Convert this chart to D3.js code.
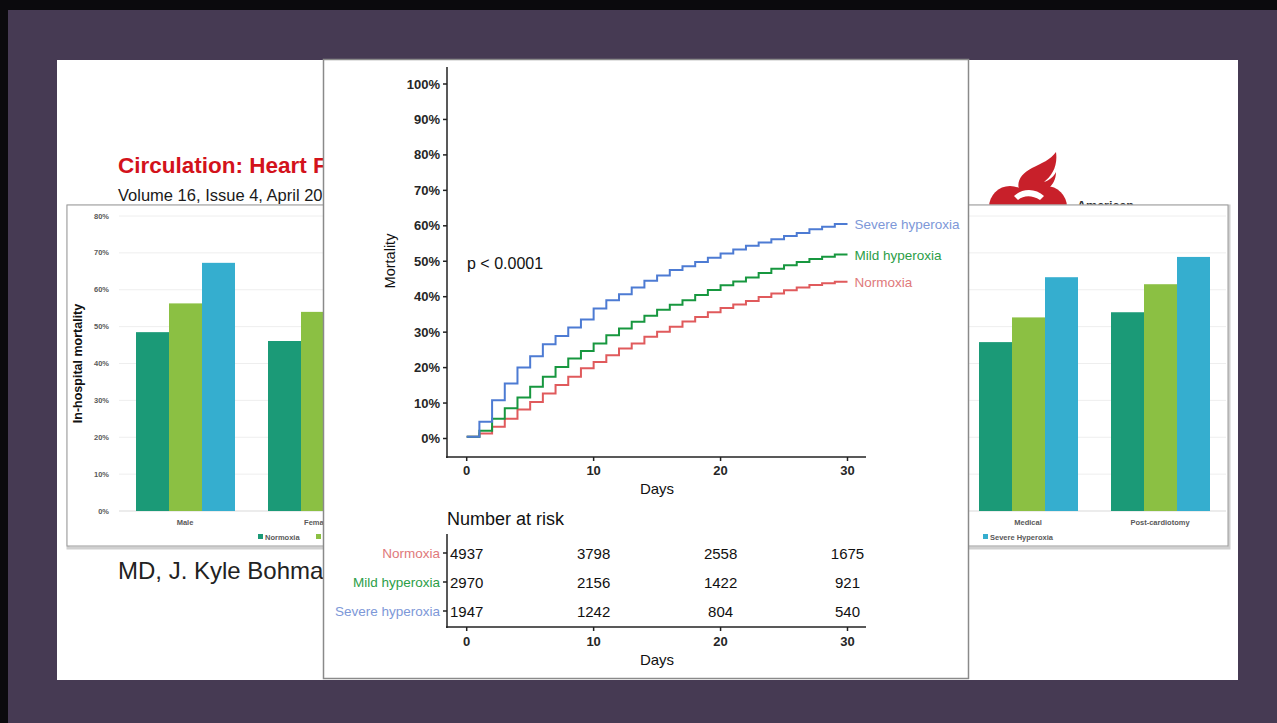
<!DOCTYPE html>
<html>
<head>
<meta charset="utf-8">
<script src="https://cdn.jsdelivr.net/npm/d3@7"></script>
<style>
  html, body { margin: 0; padding: 0; background: #463a53; }
  svg { display: block; font-family: "Liberation Sans", Arial, sans-serif; }
</style>
</head>
<body>
<div id="vis"></div>
<script>
// background bar chart (partly hidden behind the survival plot)
const barCategories = ["Male", "Female", "Medical", "Post-cardiotomy"];
const barSeries = ["Normoxia", "Mild Hyperoxia", "Severe Hyperoxia"];
const barNormoxia = [48.5, 46.1, 45.8, 53.9];
const barMild = [56.3, 54.0, 52.5, 61.5];
const barSevere = [67.3, null, 63.4, 68.9];
const barTicks = [0, 10, 20, 30, 40, 50, 60, 70, 80];

// cumulative mortality, value held from day i to day i+1
const kmGroups = ["Normoxia", "Mild hyperoxia", "Severe hyperoxia"];
const kmNormoxia = [0.5, 1.4, 3.3, 5.6, 8.2, 10.3, 12.7, 15.1, 17.4, 19.8, 21.6, 23.5, 25.4, 26.8, 28.7,
  30.1, 31.5, 33.0, 34.3, 35.6, 36.8, 37.8, 38.8, 39.9, 40.9, 41.8, 42.6, 43.3, 43.8, 44.2];
const kmMild = [0.5, 2.2, 5.6, 8.5, 11.6, 14.6, 17.4, 20.2, 22.6, 24.7, 26.8, 29.1, 31.0, 32.9, 34.6,
  36.3, 37.7, 39.0, 40.5, 41.9, 43.2, 44.3, 45.4, 46.7, 47.9, 48.9, 49.8, 50.6, 51.3, 51.9];
const kmSevere = [0.5, 4.7, 10.8, 15.5, 20.0, 23.2, 26.6, 28.9, 31.3, 33.6, 36.7, 39.0, 40.7, 42.6, 44.5,
  46.0, 47.5, 48.6, 49.8, 51.0, 52.2, 53.3, 54.4, 55.3, 56.2, 57.1, 58.0, 59.0, 59.7, 60.5];
const kmYTicks = [0, 10, 20, 30, 40, 50, 60, 70, 80, 90, 100];
const kmXTicks = [0, 10, 20, 30];

const riskDays = [0, 10, 20, 30];
const riskNormoxia = [4937, 3798, 2558, 1675];
const riskMild = [2970, 2156, 1422, 921];
const riskSevere = [1947, 1242, 804, 540];

const W = 1277, H = 723;
const svg = d3.select("#vis").append("svg").attr("width", W).attr("height", H);

// slide frame
svg.append("rect").attr("width", W).attr("height", H).attr("fill", "#463a53");
svg.append("rect").attr("width", W).attr("height", 10).attr("fill", "#0b0a0d");
svg.append("rect").attr("width", 8).attr("height", H).attr("fill", "#0b0a0d");
svg.append("rect").attr("x", 57).attr("y", 60).attr("width", 1181).attr("height", 620).attr("fill", "#fff");

// slide header text
svg.append("text").attr("x", 118).attr("y", 173)
  .attr("font-size", 22.5).attr("font-weight", "bold").attr("fill", "#d3121b")
  .text("Circulation: Heart Failure");
svg.append("text").attr("x", 118).attr("y", 201)
  .attr("font-size", 16.5).attr("fill", "#1a1a1a")
  .text("Volume 16, Issue 4, April 2023");
svg.append("text").attr("x", 118).attr("y", 579)
  .attr("font-size", 24).attr("fill", "#222")
  .text("MD, J. Kyle Bohman");

// AHA logo (rough)
const logo = svg.append("g").attr("fill", "#c8202a");
logo.append("circle").attr("cx", 1010).attr("cy", 207).attr("r", 21);
logo.append("circle").attr("cx", 1046).attr("cy", 207).attr("r", 21);
logo.append("path")
  .attr("d", "M1022,196 C1014,184 1020,174 1032,168 C1042,163 1050,160 1056,152 C1058,166 1052,176 1044,182 C1050,180 1054,176 1056,172 C1056,186 1044,194 1030,197 Z");
svg.append("path").attr("fill", "#fff")
  .attr("d", "M1014,196 C1022,188 1036,188 1044,196 L1040,200 C1032,195 1024,195 1018,200 Z");
svg.append("text").attr("x", 1077).attr("y", 210)
  .attr("font-size", 12.5).attr("font-weight", "bold").attr("fill", "#333").text("American");

// bar chart box
svg.append("rect").attr("x", 68).attr("y", 206).attr("width", 1161).attr("height", 342)
  .attr("fill", "none").attr("stroke", "#d0d0d0").attr("stroke-width", 3);
svg.append("rect").attr("x", 67).attr("y", 205).attr("width", 1161).attr("height", 341)
  .attr("fill", "#fff").attr("stroke", "#9a9a9a").attr("stroke-width", 1);

const by = d3.scaleLinear().domain([0, 80]).range([511, 216]);
const bar = svg.append("g");

bar.selectAll(".grid").data(barTicks).join("line")
  .attr("x1", 119).attr("x2", 1226)
  .attr("y1", d => by(d)).attr("y2", d => by(d))
  .attr("stroke", d => d === 0 ? "#d9d9d9" : "#eeeeee").attr("stroke-width", 1);

bar.selectAll(".ytl").data(barTicks).join("text")
  .attr("x", 109).attr("y", d => by(d) + 2.5)
  .attr("text-anchor", "end").attr("font-size", 7.5).attr("font-weight", "bold").attr("fill", "#595959")
  .text(d => d + "%");

bar.append("text")
  .attr("transform", `translate(82,${by(40)}) rotate(-90)`)
  .attr("text-anchor", "middle").attr("font-size", 12.5).attr("font-weight", "bold").attr("fill", "#111")
  .text("In-hospital mortality");

const barColor = d3.scaleOrdinal().domain(barSeries).range(["#1b9a77", "#8bc043", "#35aecf"]);
const barRows = barCategories.map((c, i) => ({
  cat: c,
  vals: [barNormoxia[i], barMild[i], barSevere[i]]
}));
const xLeft = d3.scaleBand().domain(barCategories.slice(0, 2)).range([119, 383]);
const xRight = d3.scaleBand().domain(barCategories.slice(2)).range([962, 1226]);
const xInner = d3.scaleBand().domain(barSeries).range([17, 116]);
const x0 = c => xLeft.domain().includes(c) ? xLeft(c) : xRight(c);

const groups = bar.selectAll(".grp").data(barRows).join("g")
  .attr("transform", d => `translate(${x0(d.cat)},0)`);
groups.selectAll("rect")
  .data(d => d.vals.map((v, j) => ({ key: barSeries[j], v })).filter(e => e.v != null))
  .join("rect")
  .attr("x", e => xInner(e.key)).attr("width", xInner.bandwidth())
  .attr("y", e => by(e.v)).attr("height", e => by(0) - by(e.v))
  .attr("fill", e => barColor(e.key));
groups.append("text")
  .attr("x", xLeft.bandwidth() / 2).attr("y", 525)
  .attr("text-anchor", "middle").attr("font-size", 7.5).attr("font-weight", "bold").attr("fill", "#595959")
  .text(d => d.cat);

// bar legend
const legX = { "Normoxia": 258, "Mild Hyperoxia": 316, "Severe Hyperoxia": 983 };
const leg = bar.selectAll(".leg").data(barSeries).join("g")
  .attr("transform", d => `translate(${legX[d]},537)`);
leg.append("rect").attr("x", 0).attr("y", -3).attr("width", 5).attr("height", 5).attr("fill", d => barColor(d));
leg.append("text").attr("x", 7).attr("y", 2.5)
  .attr("font-size", 7.5).attr("font-weight", "bold").attr("fill", "#595959").text(d => d);

// survival panel
svg.append("rect").attr("x", 323.5).attr("y", 59.5).attr("width", 645).attr("height", 619)
  .attr("fill", "#fff").attr("stroke", "#8a8a8a").attr("stroke-width", 1.5);

const kmColor = d3.scaleOrdinal().domain(kmGroups).range(["#e05a5c", "#17973f", "#4d7bd3"]);
const kmLabelColor = d3.scaleOrdinal().domain(kmGroups).range(["#e0797b", "#2c9e48", "#7d98d8"]);
const kx = d3.scaleLinear().domain([0, 30]).range([466.7, 847.5]);
const ky = d3.scaleLinear().domain([0, 100]).range([438.5, 84]);
const km = svg.append("g");

const ax = km.append("g").attr("stroke", "#222").attr("stroke-width", 1.5);
ax.append("line").attr("x1", 447).attr("x2", 447).attr("y1", 67).attr("y2", 458);
ax.append("line").attr("x1", 446).attr("x2", 866).attr("y1", 457).attr("y2", 457);
ax.selectAll(".yt").data(kmYTicks).join("line")
  .attr("x1", 443).attr("x2", 447).attr("y1", d => ky(d)).attr("y2", d => ky(d));
ax.selectAll(".xt").data(kmXTicks).join("line")
  .attr("x1", d => kx(d)).attr("x2", d => kx(d)).attr("y1", 457).attr("y2", 461);

km.selectAll(".ytl").data(kmYTicks).join("text")
  .attr("x", 440).attr("y", d => ky(d) + 4.5)
  .attr("text-anchor", "end").attr("font-size", 13).attr("font-weight", "bold").attr("fill", "#262626")
  .text(d => d + "%");
km.selectAll(".xtl").data(kmXTicks).join("text")
  .attr("x", d => kx(d)).attr("y", 475)
  .attr("text-anchor", "middle").attr("font-size", 13).attr("font-weight", "bold").attr("fill", "#262626")
  .text(d => d);
km.append("text").attr("x", 657).attr("y", 494).attr("text-anchor", "middle")
  .attr("font-size", 15).attr("fill", "#111").text("Days");
km.append("text").attr("transform", "translate(395,261) rotate(-90)")
  .attr("text-anchor", "middle").attr("font-size", 14.5).attr("fill", "#111").text("Mortality");
km.append("text").attr("x", 467).attr("y", 269)
  .attr("font-size", 16).attr("fill", "#111").text("p < 0.0001");

const kmSeries = [
  { name: "Normoxia", vals: kmNormoxia },
  { name: "Mild hyperoxia", vals: kmMild },
  { name: "Severe hyperoxia", vals: kmSevere }
];
const step = d3.line().curve(d3.curveStepAfter).x(d => kx(d[0])).y(d => ky(d[1]));
km.selectAll(".curve").data(kmSeries).join("path")
  .attr("fill", "none").attr("stroke", d => kmColor(d.name)).attr("stroke-width", 2)
  .attr("d", d => step(d.vals.map((v, i) => [i, v]).concat([[30, d.vals[d.vals.length - 1]]])));
km.selectAll(".clab").data(kmSeries).join("text")
  .attr("x", kx(30) + 7).attr("y", d => ky(d.vals[d.vals.length - 1]) + 5)
  .attr("font-size", 13.5).attr("fill", d => kmLabelColor(d.name))
  .text(d => d.name);

// number at risk table
const risk = svg.append("g");
risk.append("text").attr("x", 447).attr("y", 525).attr("font-size", 18).attr("fill", "#111").text("Number at risk");
const ry = d3.scalePoint().domain(kmGroups).range([553, 611]);
const rax = risk.append("g").attr("stroke", "#222").attr("stroke-width", 1.5);
rax.append("line").attr("x1", 447).attr("x2", 447).attr("y1", 534).attr("y2", 628);
rax.append("line").attr("x1", 446).attr("x2", 866).attr("y1", 627).attr("y2", 627);
rax.selectAll(".rt").data(kmGroups).join("line")
  .attr("x1", 443).attr("x2", 447).attr("y1", d => ry(d)).attr("y2", d => ry(d));
rax.selectAll(".xt").data(riskDays).join("line")
  .attr("x1", d => kx(d)).attr("x2", d => kx(d)).attr("y1", 627).attr("y2", 631);

risk.selectAll(".rl").data(kmGroups).join("text")
  .attr("x", 440).attr("y", d => ry(d) + 5)
  .attr("text-anchor", "end").attr("font-size", 13.5).attr("fill", d => kmLabelColor(d))
  .text(d => d);
const riskRows = [
  { name: "Normoxia", vals: riskNormoxia },
  { name: "Mild hyperoxia", vals: riskMild },
  { name: "Severe hyperoxia", vals: riskSevere }
];
risk.selectAll(".rrow").data(riskRows).join("g")
  .selectAll("text")
  .data(r => r.vals.map((v, i) => ({ day: riskDays[i], v, name: r.name })))
  .join("text")
  .attr("x", d => kx(d.day)).attr("y", d => ry(d.name) + 6)
  .attr("text-anchor", "middle").attr("font-size", 15).attr("fill", "#111")
  .text(d => d.v);
risk.selectAll(".xtl").data(riskDays).join("text")
  .attr("x", d => kx(d)).attr("y", 646)
  .attr("text-anchor", "middle").attr("font-size", 13).attr("font-weight", "bold").attr("fill", "#262626")
  .text(d => d);
risk.append("text").attr("x", 657).attr("y", 665).attr("text-anchor", "middle")
  .attr("font-size", 15).attr("fill", "#111").text("Days");
</script>
</body>
</html>
